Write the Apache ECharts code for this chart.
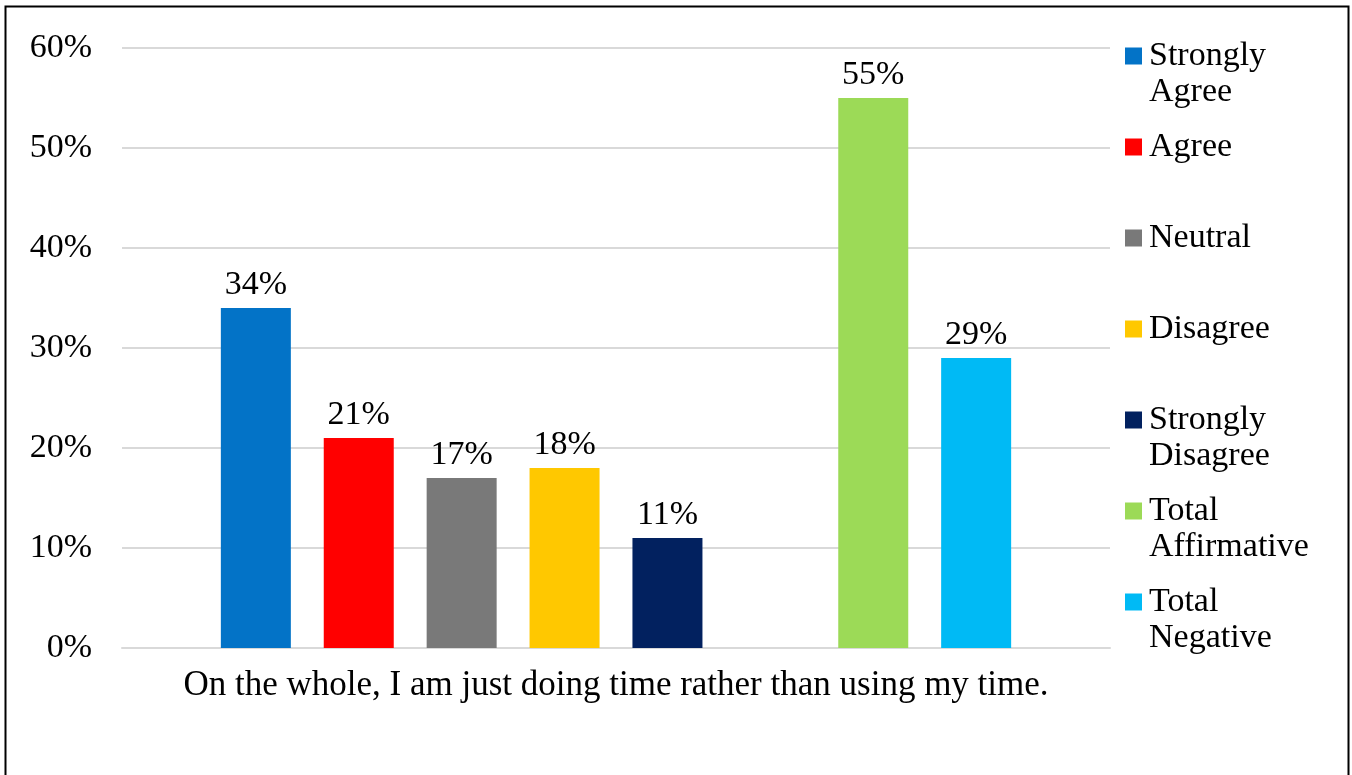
<!DOCTYPE html>
<html>
<head>
<meta charset="utf-8">
<script src="https://cdn.jsdelivr.net/npm/echarts@6/dist/echarts.min.js"></script>
<style>
html,body{margin:0;padding:0;background:#fff;}
#chart{width:1352px;height:775px;}
</style>
</head>
<body>
<div id="chart"></div>
<script>
var categories = ['On the whole, I am just doing time rather than using my time.'];
var seriesNames = ['Strongly Agree', 'Agree', 'Neutral', 'Disagree', 'Strongly Disagree', '', 'Total Affirmative', 'Total Negative'];
var legendLabels = ['Strongly\nAgree', 'Agree', 'Neutral', 'Disagree', 'Strongly\nDisagree', '', 'Total\nAffirmative', 'Total\nNegative'];
var seriesValues = [[34], [21], [17], [18], [11], [null], [55], [29]];
var seriesColors = ['#0373C7', '#FF0000', '#797979', '#FFC800', '#02215F', '#FFFFFF', '#9CDA57', '#00BAF5'];
var yTicks = [0, 10, 20, 30, 40, 50, 60];

var FONT = 'Liberation Serif';
var FS = 34;
var LH = 36;

var series = seriesNames.map(function (n, i) {
  return {
    name: n || 'gap',
    type: 'bar',
    data: seriesValues[i],
    barWidth: 70,
    barGap: '47%',
    itemStyle: { color: seriesColors[i] },
    label: {
      show: n !== '',
      position: 'top',
      distance: 6,
      formatter: '{c}%',
      fontFamily: FONT,
      fontSize: FS,
      color: '#000'
    }
  };
});

var legendCenters = [56, 147, 238, 329, 420, null, 511, 602];
var legends = [];
seriesNames.forEach(function (n, i) {
  if (!n) return;
  var twoLine = legendLabels[i].indexOf('\n') >= 0;
  var txt = twoLine ? ' \n' + legendLabels[i] : legendLabels[i];
  legends.push({
    left: 1125,
    top: legendCenters[i] - (twoLine ? LH * 1.5 : LH / 2),
    orient: 'vertical',
    padding: 0,
    itemWidth: 17,
    itemHeight: 17,
    itemGap: 0,
    icon: 'rect',
    selectedMode: false,
    data: [{ name: n, icon: 'rect' }],
    formatter: function () { return txt; },
    textStyle: {
      fontFamily: FONT,
      fontSize: FS,
      lineHeight: LH,
      color: '#000',
      padding: [0, 0, 0, 2]
    }
  });
});

var chart = echarts.init(document.getElementById('chart'), null, { renderer: 'canvas' });
chart.setOption({
  animation: false,
  backgroundColor: '#fff',
  grid: { left: 122, right: 242, top: 48, bottom: 127, containLabel: false },
  xAxis: {
    type: 'category',
    data: categories,
    axisLine: { show: true, lineStyle: { color: '#D9D9D9', width: 2 } },
    axisTick: { show: false },
    axisLabel: { fontFamily: FONT, fontSize: 35, color: '#000', margin: 20 }
  },
  yAxis: {
    type: 'value',
    min: yTicks[0],
    max: yTicks[yTicks.length - 1],
    interval: 10,
    axisLine: { show: false },
    axisTick: { show: false },
    splitLine: { lineStyle: { color: '#D9D9D9', width: 2 } },
    axisLabel: { fontFamily: FONT, fontSize: FS, color: '#000', margin: 30, formatter: '{value}%' }
  },
  legend: legends,
  graphic: [{
    type: 'rect',
    shape: { x: 5.5, y: 6.5, width: 1343, height: 820 },
    style: { fill: null, stroke: '#000', lineWidth: 2 },
    silent: true
  }],
  series: series
});
</script>
</body>
</html>
